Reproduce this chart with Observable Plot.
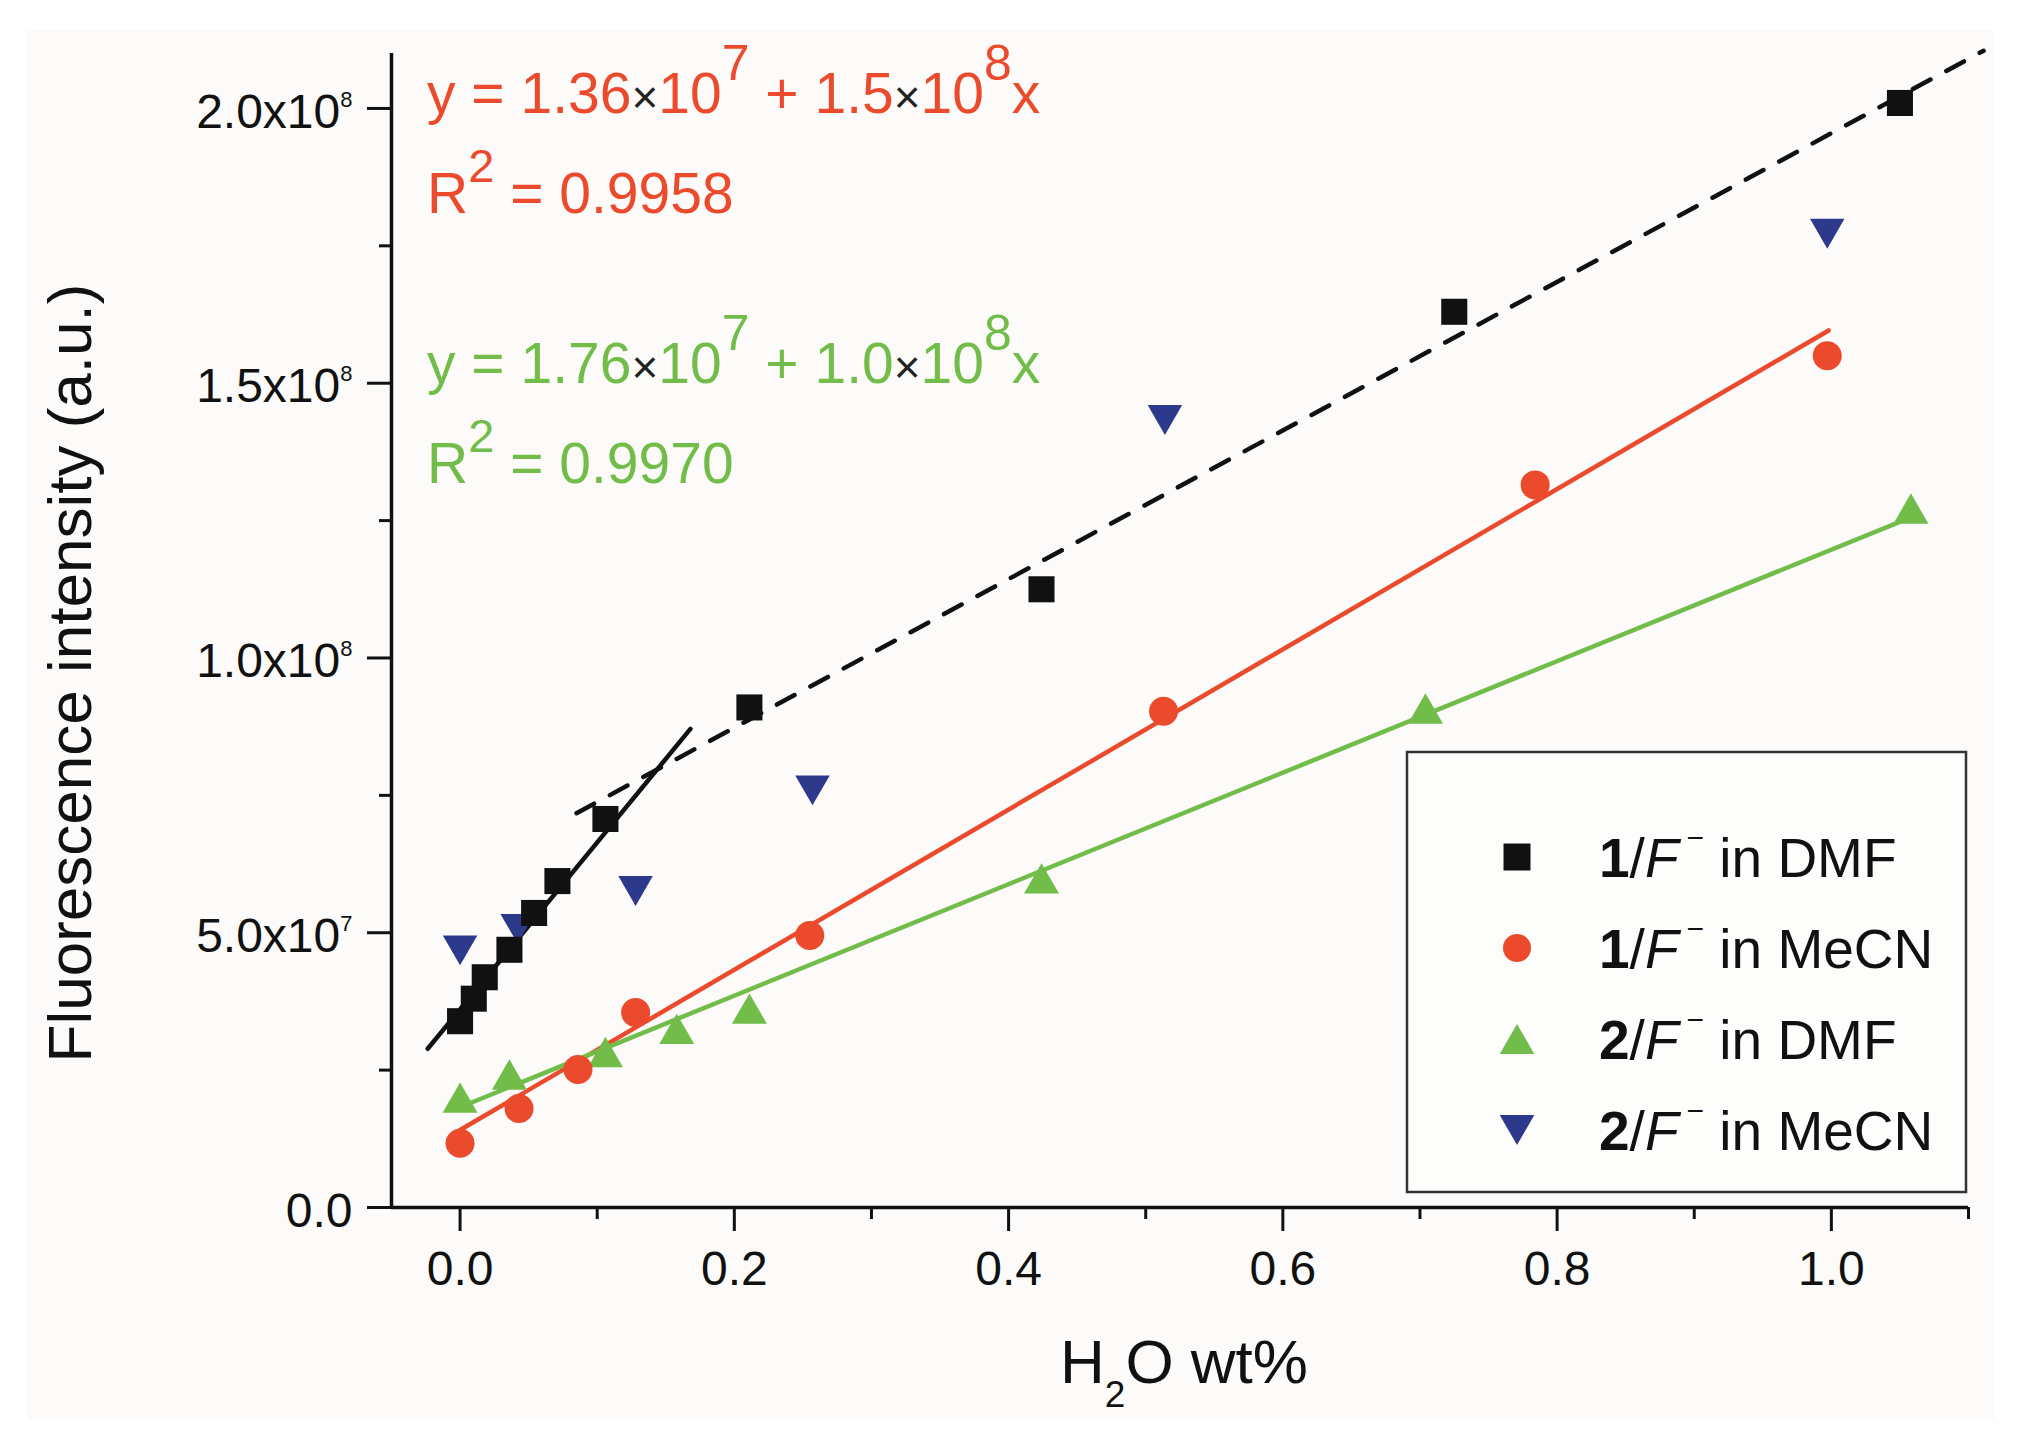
<!DOCTYPE html>
<html>
<head>
<meta charset="utf-8">
<script src="https://cdn.jsdelivr.net/npm/d3@7"></script>
<script src="https://cdn.jsdelivr.net/npm/@observablehq/plot@0.6"></script>
<style>
  html, body { margin: 0; padding: 0; background: #ffffff; }
  #wrap { position: relative; width: 2027px; height: 1449px; overflow: hidden; }
  #bg { position: absolute; left: 27px; top: 30px; width: 1968px; height: 1390px; background: #fcfbf9; }
  #chart { position: absolute; left: 0; top: 0; }
  #overlay { position: absolute; left: 0; top: 0; pointer-events: none; }
</style>
</head>
<body>
<div id="wrap">
  <div id="bg"></div>
  <div id="chart"></div>
</div>
<script>
// ---------- data ----------
const xMajorTicks = [0, 0.2, 0.4, 0.6, 0.8, 1.0];
const xMinorTicks = [0.1, 0.3, 0.5, 0.7, 0.9, 1.1];
const yMajorTicks = [0, 5e7, 1e8, 1.5e8, 2e8];
const yMinorTicks = [2.5e7, 7.5e7, 1.25e8, 1.75e8];
const yTickLabels = ["0.0", "5.0x10^7", "1.0x10^8", "1.5x10^8", "2.0x10^8"];

// 1/F- in DMF (black squares)
const dmf1X = [0, 0.010, 0.018, 0.036, 0.054, 0.071, 0.106, 0.211, 0.424, 0.725, 1.050];
const dmf1Y = [3.39e7, 3.80e7, 4.19e7, 4.69e7, 5.36e7, 5.94e7, 7.07e7, 9.10e7, 1.125e8, 1.63e8, 2.01e8];
// 1/F- in MeCN (red circles)
const mecn1X = [0, 0.043, 0.086, 0.128, 0.255, 0.513, 0.784, 0.997];
const mecn1Y = [1.17e7, 1.80e7, 2.51e7, 3.55e7, 4.95e7, 9.03e7, 1.315e8, 1.55e8];
// 2/F- in DMF (green up-triangles)
const dmf2X = [0, 0.036, 0.106, 0.158, 0.211, 0.424, 0.704, 1.058];
const dmf2Y = [2.0e7, 2.42e7, 2.83e7, 3.25e7, 3.62e7, 5.99e7, 9.08e7, 1.272e8];
// 2/F- in MeCN (blue down-triangles)
const mecn2X = [0, 0.042, 0.128, 0.257, 0.514, 0.997];
const mecn2Y = [4.68e7, 5.07e7, 5.76e7, 7.59e7, 1.433e8, 1.772e8];

// fitted lines (end points)
const fitDmf1SolidX = [-0.0236, 0.168];
const fitDmf1SolidY = [2.888e7, 8.71e7];
const fitDmf1DashX = [0.0849, 1.111];
const fitDmf1DashY = [7.175e7, 2.105e8];
const fitMecn1X = [0, 0.998];
const fitMecn1Y = [1.41e7, 1.596e8];
const fitDmf2X = [0, 1.058];
const fitDmf2Y = [1.825e7, 1.256e8];

const legendCompound = ["1", "1", "2", "2"];
const legendSolvent = ["DMF", "MeCN", "DMF", "MeCN"];

// ---------- styling ----------
const RED = "#ec4a2c", GREEN = "#72bd4a", BLUE = "#2d3a8c", BLACK = "#111111";
const FONT = "'Liberation Sans', Arial, Helvetica, sans-serif";

const zip = (xs, ys) => xs.map((x, i) => ({x, y: ys[i]}));

const triUp = {draw(ctx, size) {
  const s = Math.sqrt(4 * size / Math.sqrt(3)), h = s * Math.sqrt(3) / 2;
  ctx.moveTo(0, -h / 2); ctx.lineTo(s / 2, h / 2); ctx.lineTo(-s / 2, h / 2); ctx.closePath();
}};
const triDown = {draw(ctx, size) {
  const s = Math.sqrt(4 * size / Math.sqrt(3)), h = s * Math.sqrt(3) / 2;
  ctx.moveTo(0, h / 2); ctx.lineTo(s / 2, -h / 2); ctx.lineTo(-s / 2, -h / 2); ctx.closePath();
}};

const chart = Plot.plot({
  width: 2027,
  height: 1449,
  marginLeft: 391,
  marginRight: 59,
  marginTop: 53,
  marginBottom: 242,
  x: {domain: [-0.05, 1.1]},
  y: {domain: [0, 2.1e8]},
  style: {fontFamily: FONT, fontSize: "48px", color: BLACK, background: "transparent", overflow: "visible"},
  marks: [
    Plot.axisX({ticks: xMajorTicks, tickSize: 24, tickPadding: 19, strokeWidth: 3, stroke: BLACK,
      tickFormat: d3.format(".1f"), fontSize: 48, fill: BLACK, label: null}),
    Plot.axisX({ticks: xMinorTicks, tickSize: 12, strokeWidth: 3, stroke: BLACK,
      tickFormat: () => "", label: null}),
    Plot.axisY({ticks: yMajorTicks, tickSize: 24, tickPadding: 15, strokeWidth: 3, stroke: BLACK,
      tickFormat: d => yTickLabels[yMajorTicks.indexOf(d)], fontSize: 48, fill: BLACK, label: null}),
    Plot.axisY({ticks: yMinorTicks, tickSize: 12, strokeWidth: 3, stroke: BLACK,
      tickFormat: () => "", label: null}),
    Plot.ruleY([0], {stroke: BLACK, strokeWidth: 3.5}),
    Plot.ruleX([-0.05], {stroke: BLACK, strokeWidth: 3.5}),

    Plot.line(zip(fitDmf1DashX, fitDmf1DashY), {x: "x", y: "y", stroke: BLACK, strokeWidth: 4.5, strokeDasharray: "20,18"}),
    Plot.line(zip(fitDmf1SolidX, fitDmf1SolidY), {x: "x", y: "y", stroke: BLACK, strokeWidth: 4.5}),
    Plot.line(zip(fitMecn1X, fitMecn1Y), {x: "x", y: "y", stroke: RED, strokeWidth: 4.5}),
    Plot.line(zip(fitDmf2X, fitDmf2Y), {x: "x", y: "y", stroke: GREEN, strokeWidth: 4.5}),

    Plot.dot(zip(dmf2X, dmf2Y), {x: "x", y: "y", symbol: triUp, r: 13, fill: GREEN, stroke: "none"}),
    Plot.dot(zip(mecn1X, mecn1Y), {x: "x", y: "y", symbol: "circle", r: 14.5, fill: RED, stroke: "none"}),
    Plot.dot(zip(mecn2X, mecn2Y), {x: "x", y: "y", symbol: triDown, r: 12.8, fill: BLUE, stroke: "none"}),
    Plot.dot(zip(dmf1X, dmf1Y), {x: "x", y: "y", symbol: "square", r: 14.7, fill: BLACK, stroke: "none"})
  ]
});
document.getElementById("chart").appendChild(chart);

// superscripts on y tick labels
d3.select(chart).selectAll('[aria-label="y-axis tick label"] text').each(function () {
  const t = this.textContent;
  const sel = d3.select(this).attr("dy", "0.08em");
  if (t.includes("^")) {
    const [base, exp] = t.split("^");
    sel.text(base);
    sel.append("tspan").attr("font-size", 22).attr("dy", -21).text(exp);
  }
});

// ---------- overlay: titles, equations, legend ----------
const ov = d3.select("#wrap").append("svg").attr("id", "overlay")
  .attr("width", 2027).attr("height", 1449)
  .attr("font-family", FONT);

// y title
ov.append("text")
  .attr("transform", "translate(91,673) rotate(-90)")
  .attr("text-anchor", "middle").attr("font-size", 62).attr("fill", BLACK)
  .text("Fluorescence intensity (a.u.)");

// x title
const xt = ov.append("text").attr("x", 1184).attr("y", 1383)
  .attr("text-anchor", "middle").attr("font-size", 62).attr("fill", BLACK);
xt.append("tspan").text("H");
xt.append("tspan").attr("font-size", 37).attr("dy", 24).text("2");
xt.append("tspan").attr("dy", -24).text("O wt%");

// equations
function equation(y0, color, a, aExp, b, bExp, r2) {
  const t = ov.append("text").attr("x", 427).attr("y", y0).attr("font-size", 57).attr("fill", color);
  t.append("tspan").text("y = " + a);
  t.append("tspan").attr("fill", "#222").attr("font-size", 46).text("\u00d7");
  t.append("tspan").text("10");
  t.append("tspan").attr("font-size", 50).attr("dy", -33).text(aExp);
  t.append("tspan").attr("dy", 33).text(" + " + b);
  t.append("tspan").attr("fill", "#222").attr("font-size", 46).text("\u00d7");
  t.append("tspan").text("10");
  t.append("tspan").attr("font-size", 50).attr("dy", -33).text(bExp);
  t.append("tspan").attr("dy", 33).text("x");
  const r = ov.append("text").attr("x", 427).attr("y", y0 + 100).attr("font-size", 57).attr("fill", color);
  r.append("tspan").text("R");
  r.append("tspan").attr("font-size", 47).attr("dy", -31).text("2");
  r.append("tspan").attr("dy", 31).text(" = " + r2);
}
equation(113, RED, "1.36", "7", "1.5", "8", "0.9958");
equation(383, GREEN, "1.76", "7", "1.0", "8", "0.9970");

// legend
const lg = ov.append("g");
lg.append("rect").attr("x", 1407).attr("y", 752).attr("width", 559).attr("height", 440)
  .attr("fill", "#fdfdfc").attr("stroke", "#333").attr("stroke-width", 2.5);
const legendSymbols = [d3.symbolSquare, d3.symbolCircle, triUp, triDown];
const legendColors = [BLACK, RED, GREEN, BLUE];
const legendSizes = [27 * 27, Math.PI * 14 * 14, 520, 520];
legendCompound.forEach((c, i) => {
  const base = 877 + i * 91;
  lg.append("path")
    .attr("transform", `translate(1517,${base - 20})`)
    .attr("d", d3.symbol(legendSymbols[i], legendSizes[i])())
    .attr("fill", legendColors[i]);
  const t = lg.append("text").attr("x", 1599).attr("y", base).attr("font-size", 55).attr("fill", BLACK);
  t.append("tspan").attr("font-weight", "bold").text(c);
  t.append("tspan").text("/");
  t.append("tspan").attr("font-style", "italic").text("F");
  t.append("tspan").attr("font-size", 30).attr("dx", 8).attr("dy", -29).text("\u2212");
  t.append("tspan").attr("dy", 29).text(" in " + legendSolvent[i]);
});
</script>
</body>
</html>
